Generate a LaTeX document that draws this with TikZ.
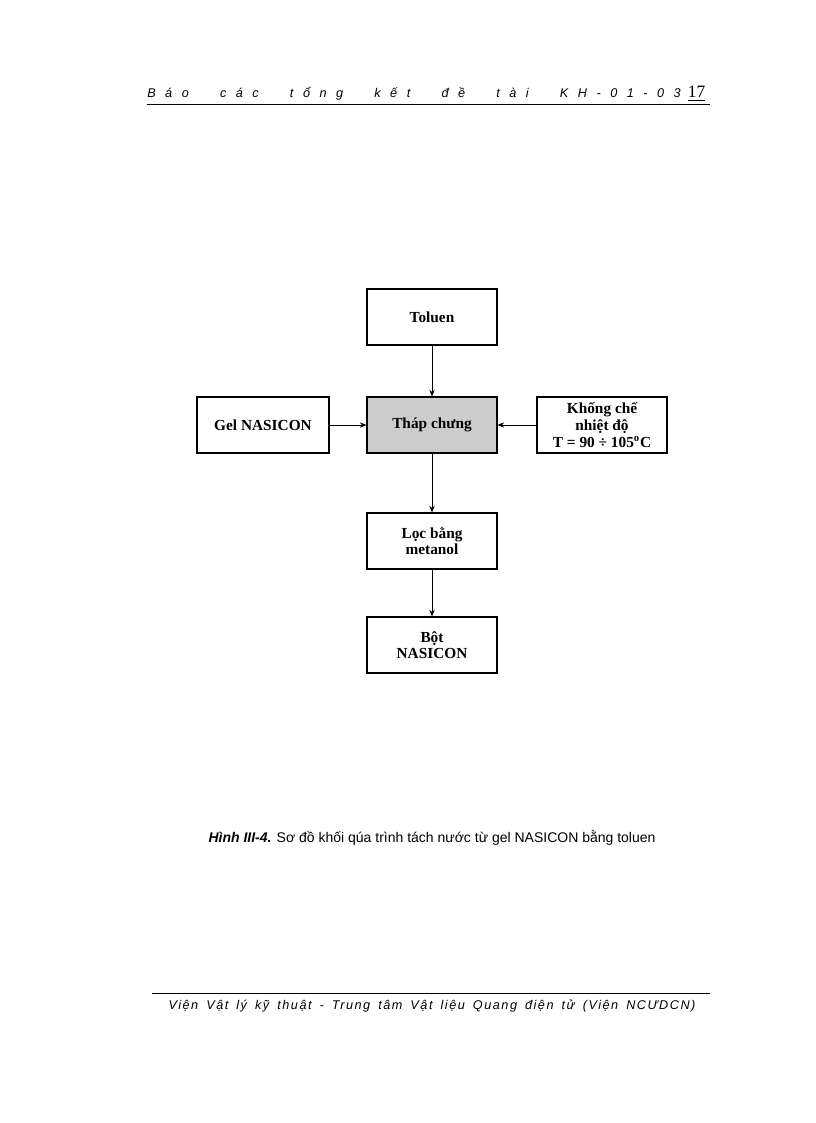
\documentclass[tikz,border=0pt]{standalone}
\usepackage{fontspec}
\setmainfont{Liberation Serif}
\newfontfamily\hsans{Liberation Sans}
\newfontfamily\hsanswide[LetterSpace=75,WordSpace=2.4]{Liberation Sans}
\newfontfamily\hsansmid[LetterSpace=12,WordSpace=1.6]{Liberation Sans}
\usetikzlibrary{arrows.meta}
\begin{document}
\begin{tikzpicture}[x=0.75pt,y=-0.75pt,
  blk/.style={draw,line width=0.8pt,minimum width=97.5pt,minimum height=42pt,align=center,font=\bfseries\fontsize{11.5}{12.5}\selectfont,inner sep=1pt},
  arr/.style={-{Stealth[length=5pt,width=4pt]},line width=0.6pt}]
\useasboundingbox (0,0) rectangle (816,1123);
\node[anchor=base west,inner sep=0pt,font=\hsanswide\itshape\fontsize{9.5}{10}\selectfont] (hd) at (147,98) {Báo các tổng kết đề tài KH-01-03};
\node[anchor=base east,font=\fontsize{13}{14}\selectfont] (pg) at (710,98) {\underline{17}};
\draw[line width=0.6pt] (147,104) -- (710,104);
\node[blk] (tol) at (432,317) {Toluen};
\node[blk,fill=gray!40] (tc) at (432,425) {Tháp chưng};
\node[blk,minimum width=99pt] (gel) at (263,425) {Gel NASICON};
\node[blk] (kc) at (602,425) {Khống chế\\nhiệt độ\\T = 90 ÷ 105\textsuperscript{o}C};
\node[blk] (loc) at (432,541) {Lọc bằng\\metanol};
\node[blk] (bot) at (432,645) {Bột\\NASICON};
\draw[arr] (tol) -- (tc);
\draw[arr] (gel) -- (tc);
\draw[arr] (kc) -- (tc);
\draw[arr] (tc) -- (loc);
\draw[arr] (loc) -- (bot);
\node[font=\hsans\fontsize{10.5}{12}\selectfont] (cap) at (432,838) {\textbf{\textit{Hình III-4.}} Sơ đồ khối qúa trình tách nước từ gel NASICON bằng toluen};
\draw[line width=0.6pt] (152,993) -- (710,993);
\node[anchor=base,font=\hsansmid\itshape\fontsize{9.5}{10}\selectfont] (ft) at (432,1009) {Viện Vật lý kỹ thuật - Trung tâm Vật liệu Quang điện tử (Viện NCƯDCN)};
\end{tikzpicture}
\end{document}
